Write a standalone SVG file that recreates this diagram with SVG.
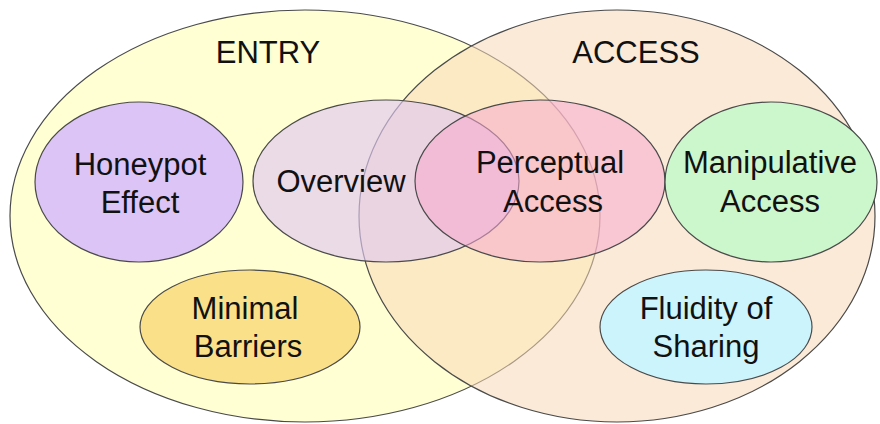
<svg xmlns="http://www.w3.org/2000/svg" width="880" height="424" viewBox="0 0 880 424">
<style>
.e{stroke:#4a4a4a;stroke-width:1.2}
text{font-family:"Liberation Sans",Arial,sans-serif;font-size:31px;fill:#111;text-anchor:middle}
</style>
<rect width="880" height="424" fill="#ffffff"/>
<g id="entry">
<ellipse class="e" cx="305" cy="216" rx="295" ry="206" fill="#ffffc8" fill-opacity="0.8"/>
<text x="268" y="63">ENTRY</text>
</g>
<g id="access">
<ellipse class="e" cx="617" cy="216" rx="258" ry="206" fill="#f8d8b8" fill-opacity="0.55"/>
<text x="636" y="63">ACCESS</text>
</g>
<g id="honeypot">
<ellipse class="e" cx="139" cy="182" rx="104" ry="80" fill="#ddc4f6"/>
<text x="140" y="175">Honeypot</text>
<text x="140" y="213">Effect</text>
</g>
<g id="overview">
<ellipse class="e" cx="386" cy="181" rx="133" ry="81" fill="#e1c7f1" fill-opacity="0.65"/>
<text x="341" y="192">Overview</text>
</g>
<g id="perceptual">
<ellipse class="e" cx="540" cy="181" rx="125" ry="81" fill="#f8a8d0" fill-opacity="0.55"/>
<text x="550" y="173">Perceptual</text>
<text x="553" y="212">Access</text>
</g>
<g id="manipulative">
<ellipse class="e" cx="771" cy="182" rx="106" ry="80" fill="#ccf6cc"/>
<text x="770" y="173">Manipulative</text>
<text x="770" y="212">Access</text>
</g>
<g id="minimal">
<ellipse class="e" cx="250" cy="327" rx="110" ry="57" fill="#fae088"/>
<text x="245" y="319">Minimal</text>
<text x="248" y="357">Barriers</text>
</g>
<g id="fluidity">
<ellipse class="e" cx="706" cy="327" rx="106" ry="57" fill="#ccf4fc"/>
<text x="706" y="319">Fluidity of</text>
<text x="706" y="357">Sharing</text>
</g>
<g id="connectors"></g>
</svg>
